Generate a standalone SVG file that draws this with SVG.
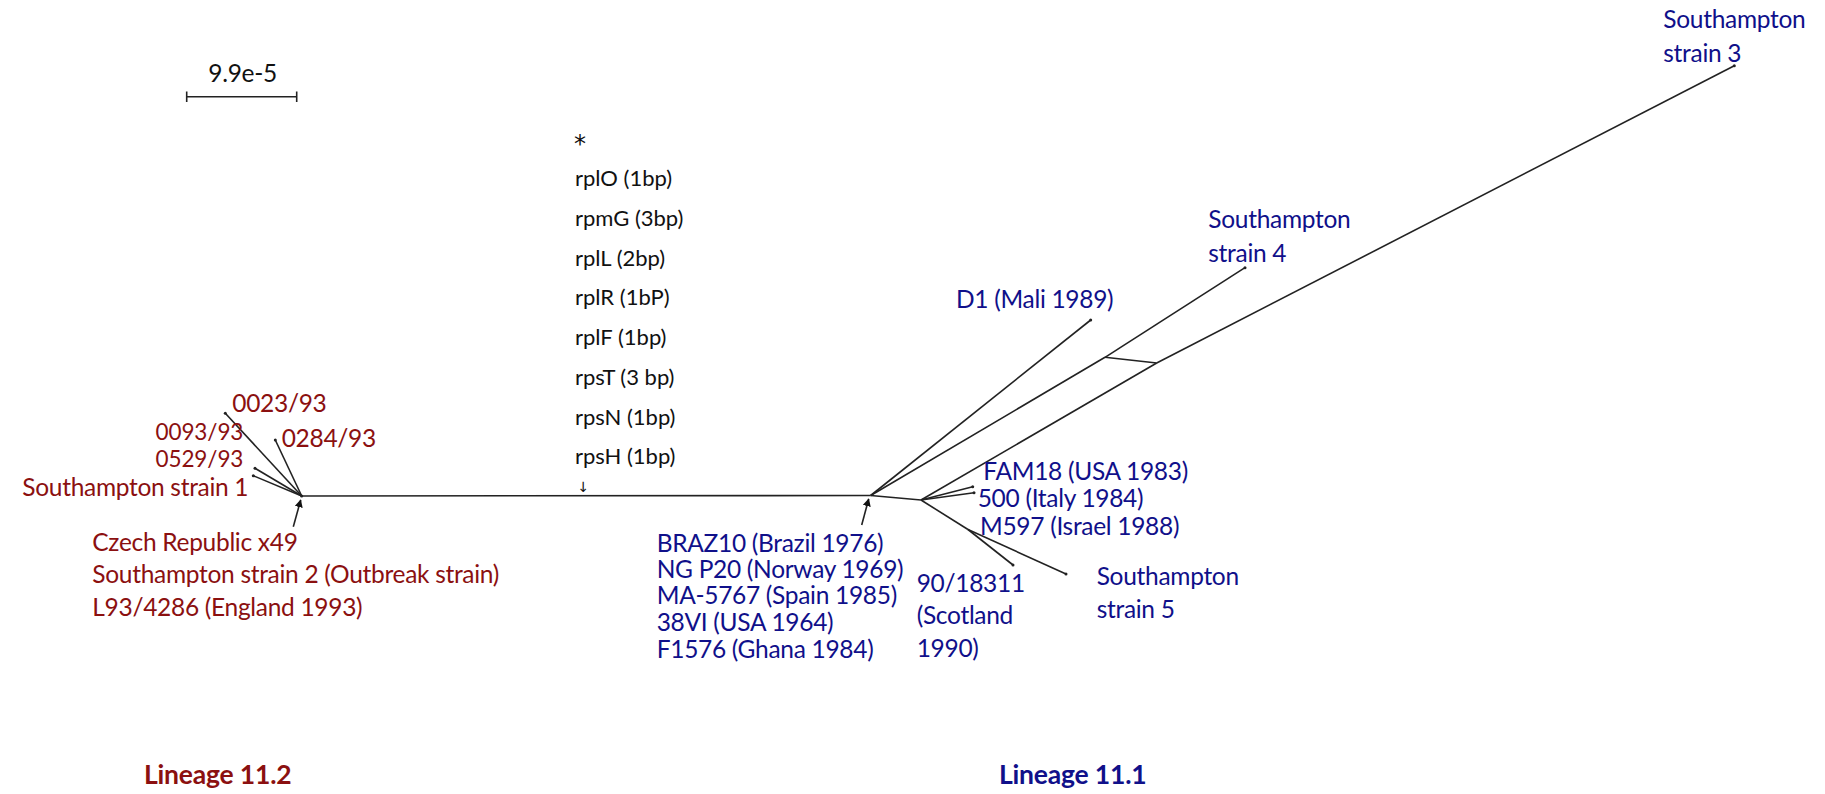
<svg xmlns="http://www.w3.org/2000/svg" width="1825" height="794" viewBox="0 0 1825 794">
<defs>
<style>
text{font-family:Lato,"Liberation Sans",sans-serif;font-size:24.5px;letter-spacing:-0.3px}
.r{fill:#8b1010}
.b{fill:#10108a}
.k{fill:#111}
.g{font-size:22px;letter-spacing:0}
.t{font-size:22.5px;letter-spacing:-0.1px}
.lin{font-size:26.5px;font-weight:bold;letter-spacing:-0.2px}
.e{text-anchor:end}
.ast{font-family:"DejaVu Sans",sans-serif;font-size:24px}
.dn{font-family:"DejaVu Sans",sans-serif;font-size:14px;text-anchor:middle}
#connectors line{stroke:#222;stroke-width:1.6;fill:none}
#connectors .ar{marker-end:url(#ah)}
#connectors circle{fill:#222}
</style>
<marker id="ah" viewBox="0 0 10 10" refX="9" refY="5" markerWidth="5" markerHeight="5" orient="auto"><path d="M0,0L10,5L0,10z" fill="#111"/></marker>
</defs>
<rect width="1825" height="794" fill="#fff"/>
<g id="connectors">
<line x1="186.7" y1="96.7" x2="296.7" y2="96.7"/>
<line x1="186.7" y1="91.5" x2="186.7" y2="102"/>
<line x1="296.7" y1="91.5" x2="296.7" y2="102"/>
<line x1="301.7" y1="496" x2="225.3" y2="413.3"/>
<line x1="301.7" y1="496" x2="275.3" y2="440"/>
<line x1="301.7" y1="496" x2="255" y2="468.3"/>
<line x1="301.7" y1="496" x2="253.3" y2="475.7"/>
<line x1="301.7" y1="496" x2="870.7" y2="495.5"/>
<line class="ar" x1="293.3" y1="526.7" x2="300.7" y2="500"/>
<line class="ar" x1="861.7" y1="525" x2="868.7" y2="499"/>
<line x1="870.7" y1="495.5" x2="921" y2="500"/>
<line x1="870.7" y1="495.5" x2="1090.7" y2="320"/>
<line x1="870.7" y1="495.5" x2="1105" y2="357.3"/>
<line x1="921" y1="500" x2="1156.7" y2="363"/>
<line x1="1105" y1="357.3" x2="1156.7" y2="363"/>
<line x1="1105" y1="357.3" x2="1245" y2="267.7"/>
<line x1="1156.7" y1="363" x2="1734.3" y2="65.7"/>
<line x1="921" y1="500" x2="972.7" y2="486.7"/>
<line x1="921" y1="500" x2="974" y2="492.7"/>
<line x1="921" y1="500" x2="968" y2="529.5"/>
<line x1="968" y1="529.5" x2="1013" y2="565"/>
<line x1="968" y1="529.5" x2="1066" y2="574"/>
<circle cx="225.3" cy="413.3" r="1.5"/>
<circle cx="275.3" cy="440" r="1.5"/>
<circle cx="255" cy="468.3" r="1.5"/>
<circle cx="253.3" cy="475.7" r="1.5"/>
<circle cx="301.7" cy="496" r="1.5"/>
<circle cx="1090.7" cy="320" r="1.5"/>
<circle cx="1245" cy="267.7" r="1.5"/>
<circle cx="1734.3" cy="65.7" r="1.5"/>
<circle cx="972.7" cy="486.7" r="1.5"/>
<circle cx="974" cy="492.7" r="1.5"/>
<circle cx="1013" cy="565" r="1.5"/>
<circle cx="1066" cy="574" r="1.5"/>
</g>
<g id="scale"><text class="k" x="208.3" y="82.3">9.9e-5</text></g>
<g id="mutations">
<text class="k ast" x="574" y="152">*</text>
<text class="k g" x="575" y="186">rplO (1bp)</text>
<text class="k g" x="575" y="226">rpmG (3bp)</text>
<text class="k g" x="575" y="265.5">rplL (2bp)</text>
<text class="k g" x="575" y="305">rplR (1bP)</text>
<text class="k g" x="575" y="345">rplF (1bp)</text>
<text class="k g" x="575" y="385">rpsT (3 bp)</text>
<text class="k g" x="575" y="424.5">rpsN (1bp)</text>
<text class="k g" x="575" y="464">rpsH (1bp)</text>
<text class="k dn" x="583.3" y="492">↓</text>
</g>
<g id="n0023"><text class="r" x="232.3" y="411.7">0023/93</text></g>
<g id="n0284"><text class="r" x="281.7" y="446.7">0284/93</text></g>
<g id="n0093"><text class="r e t" x="243.3" y="439.5">0093/93</text></g>
<g id="n0529"><text class="r e t" x="243.3" y="466.8">0529/93</text></g>
<g id="nS1"><text class="r e" x="248.3" y="496">Southampton strain 1</text></g>
<g id="nCzech">
<text class="r" x="92.3" y="550.7">Czech Republic x49</text>
<text class="r" x="92.3" y="583.3">Southampton strain 2 (Outbreak strain)</text>
<text class="r" x="92.3" y="616">L93/4286 (England 1993)</text>
</g>
<g id="nBRAZ">
<text class="b" x="656.7" y="551.7">BRAZ10 (Brazil 1976)</text>
<text class="b" x="656.7" y="578.3">NG P20 (Norway 1969)</text>
<text class="b" x="656.7" y="604.3">MA-5767 (Spain 1985)</text>
<text class="b" x="656.7" y="631">38VI (USA 1964)</text>
<text class="b" x="656.7" y="657.7">F1576 (Ghana 1984)</text>
</g>
<g id="n90">
<text class="b" x="916.7" y="591.7">90/18311</text>
<text class="b" x="916.7" y="624.3">(Scotland</text>
<text class="b" x="916.7" y="656.7">1990)</text>
</g>
<g id="nFAM18"><text class="b" x="983.3" y="480">FAM18 (USA 1983)</text></g>
<g id="n500"><text class="b" x="977.7" y="506.7">500 (Italy 1984)</text></g>
<g id="nM597"><text class="b" x="980" y="535">M597 (Israel 1988)</text></g>
<g id="nS5">
<text class="b" x="1096.7" y="585">Southampton</text>
<text class="b" x="1096.7" y="618.3">strain 5</text>
</g>
<g id="nD1"><text class="b" x="956" y="308.3">D1 (Mali 1989)</text></g>
<g id="nS4">
<text class="b" x="1208.3" y="228.3">Southampton</text>
<text class="b" x="1208.3" y="262">strain 4</text>
</g>
<g id="nS3">
<text class="b" x="1663.3" y="28.3">Southampton</text>
<text class="b" x="1663.3" y="61.7">strain 3</text>
</g>
<g id="lin112"><text class="r lin" x="144" y="784.3">Lineage 11.2</text></g>
<g id="lin111"><text class="b lin" x="999" y="784.3">Lineage 11.1</text></g>
</svg>
